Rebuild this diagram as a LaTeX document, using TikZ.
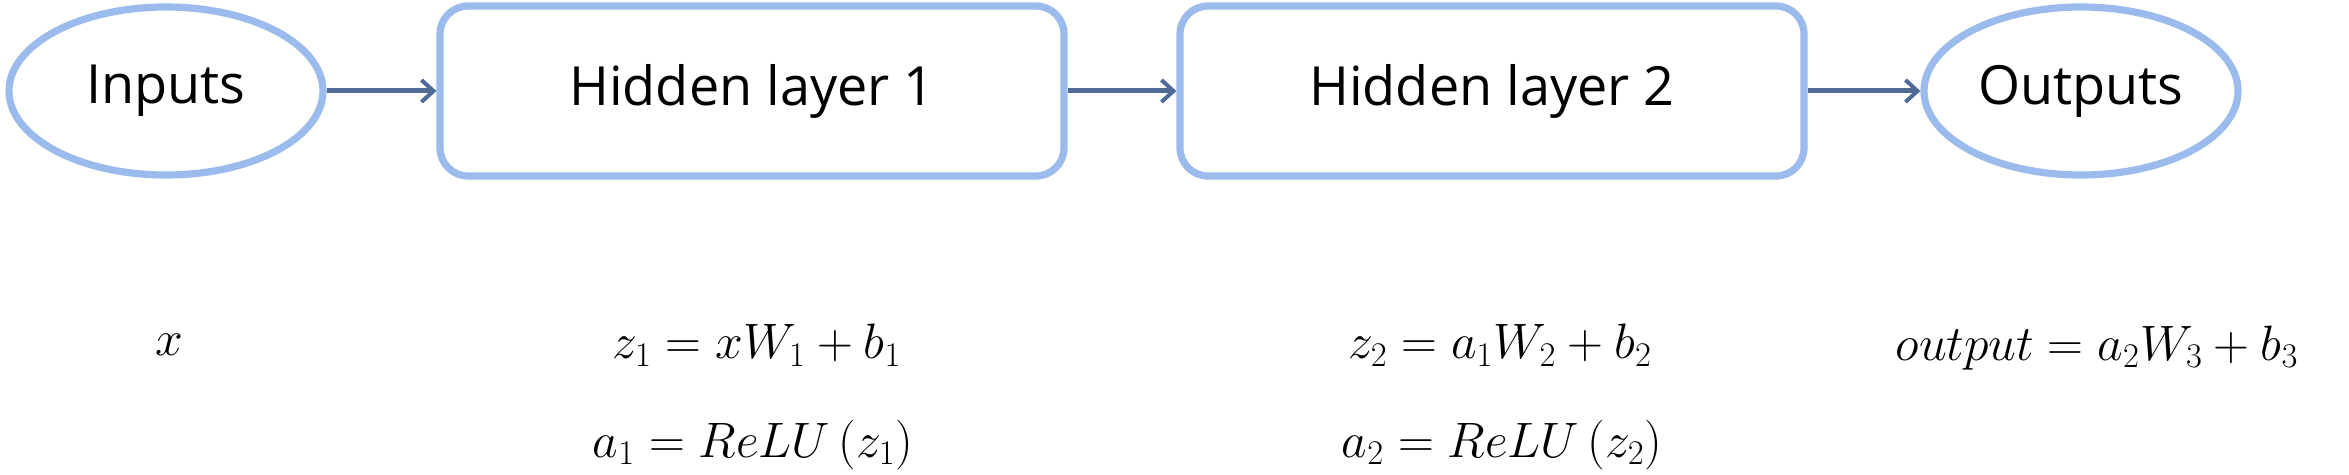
\documentclass[tikz,border=0pt]{standalone}
\usepackage{fontspec}
\setmainfont{Open Sans}
\usetikzlibrary{shapes.geometric,arrows.meta}
\definecolor{bord}{HTML}{9ABBEB}
\definecolor{arr}{HTML}{4F6A96}
\begin{document}
\begin{tikzpicture}[x=0.5pt,y=-0.5pt,
  lbl/.style={font=\fontsize{27}{32}\selectfont},
  ell/.style={ellipse,draw=bord,line width=3.6pt,minimum width=157pt,minimum height=84pt,inner sep=0pt,lbl},
  box/.style={rectangle,rounded corners=14pt,draw=bord,line width=3.6pt,minimum width=312pt,minimum height=85pt,lbl},
  con/.style={draw=arr,line width=2.5pt,-{Straight Barb[length=6pt,width=11pt,line width=2pt]}},
  eq/.style={font=\fontsize{26}{30}\selectfont}]
\useasboundingbox (0,0) rectangle (2349,475);
\node[ell] (in) at (166,91) {Inputs};
\node[box] (h1) at (752,91) {Hidden layer 1};
\node[box] (h2) at (1492,91) {Hidden layer 2};
\node[ell] (out) at (2081,91) {Outputs};
\draw[con] (in) -- (h1);
\draw[con] (h1) -- (h2);
\draw[con] (h2) -- (out);
\node[eq] (ex) at (169,345) {$x$};
\node[eq] (ez1) at (757,345) {$z_1 = xW_1 + b_1$};
\node[eq] (ea1) at (753,445) {$a_1 = ReLU\left(z_1\right)$};
\node[eq] (ez2) at (1500,345) {$z_2 = a_1W_2 + b_2$};
\node[eq] (ea2) at (1502,445) {$a_2 = ReLU\left(z_2\right)$};
\node[eq] (eo) at (2097,348) {$output = a_2W_3 + b_3$};
\end{tikzpicture}
\end{document}
